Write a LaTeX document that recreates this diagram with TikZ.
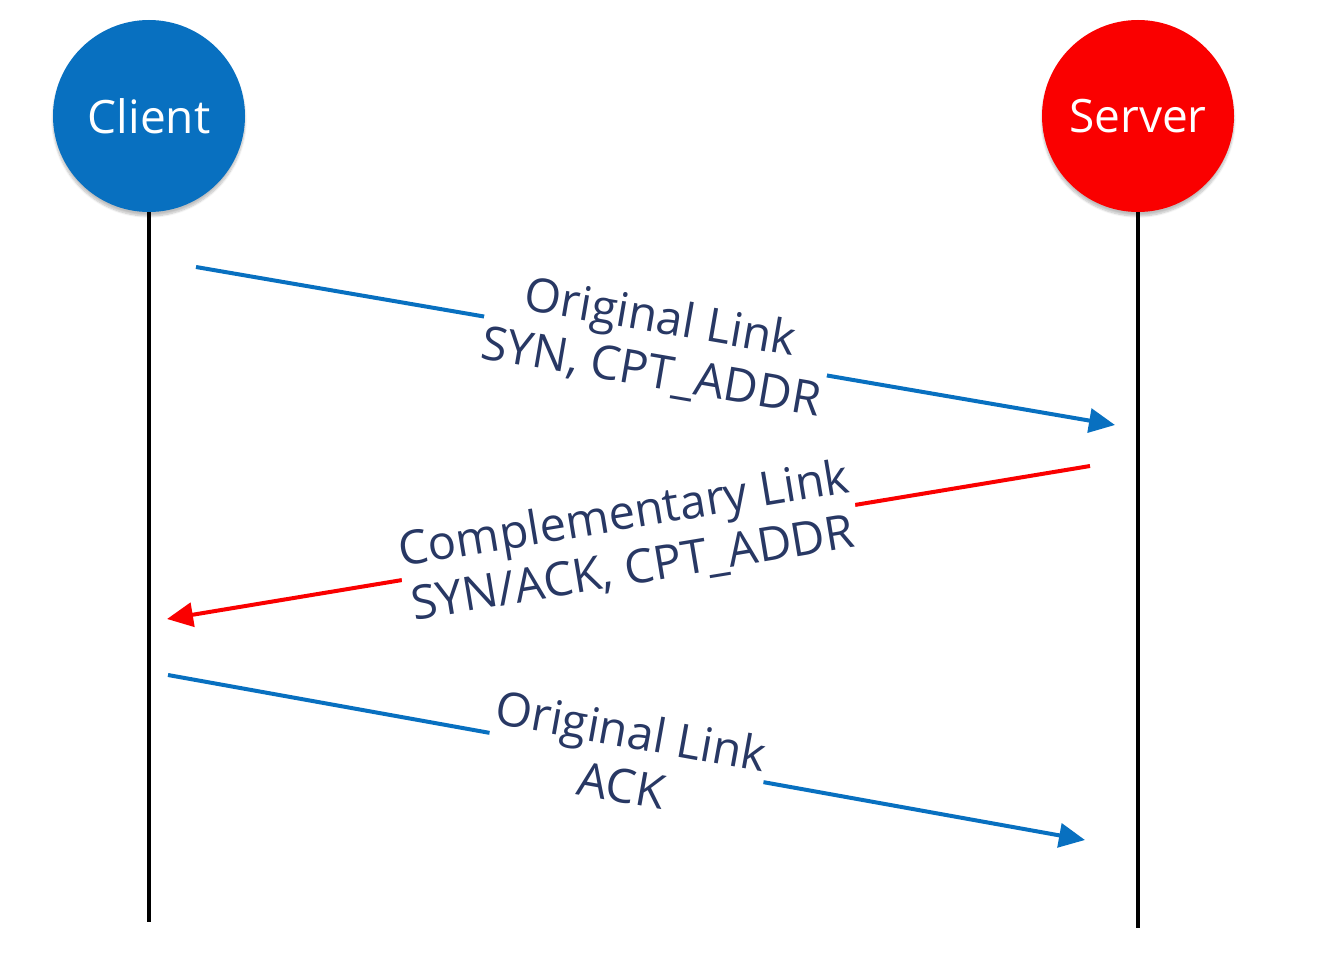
\documentclass[tikz,border=0pt]{standalone}
\usepackage{fontspec}
\setmainfont{Open Sans}
\usetikzlibrary{arrows.meta,shadows.blur}
\definecolor{cblue}{RGB}{8,112,192}
\definecolor{cred}{RGB}{250,0,0}
\definecolor{ctext}{RGB}{40,56,100}
\begin{document}
\begin{tikzpicture}[x=1pt,y=-1pt,
  actor/.style={circle, minimum size=192pt, inner sep=0pt, text=white,
     font=\fontsize{46}{50}\selectfont, blur shadow={shadow blur steps=8, shadow xshift=0pt, shadow yshift=-4pt, shadow opacity=25}},
  lifeline/.style={line width=3.5pt, black},
  msg/.style={line width=4pt, -{Triangle[length=26pt,width=24pt]}},
  lbl/.style={midway, sloped, fill=white, align=center, text=ctext, inner sep=2pt,
     font=\fontsize{47}{55}\selectfont}]
\useasboundingbox (0,0) rectangle (1320,976);
\node[actor, fill=cblue] (client) at (149,116) {Client};
\node[actor, fill=cred] (server) at (1138,116) {Server};
\coordinate (cend) at (149,922);
\coordinate (send) at (1138,928);
\draw[lifeline] (client.south) -- (cend);
\draw[lifeline] (server.south) -- (send);
\coordinate (a1s) at (196,267);
\coordinate (a1e) at (1115,425);
\coordinate (a2s) at (1090,466);
\coordinate (a2e) at (167,619);
\coordinate (a3s) at (168,675);
\coordinate (a3e) at (1085,840);
\draw[msg, cblue] (a1s) -- node[lbl] {Original Link\\SYN, CPT\_ADDR} (a1e);
\draw[msg, cred] (a2s) -- node[lbl] {Complementary Link\\SYN/ACK, CPT\_ADDR} (a2e);
\draw[msg, cblue] (a3s) -- node[lbl] {Original Link\\ACK} (a3e);
\end{tikzpicture}
\end{document}
